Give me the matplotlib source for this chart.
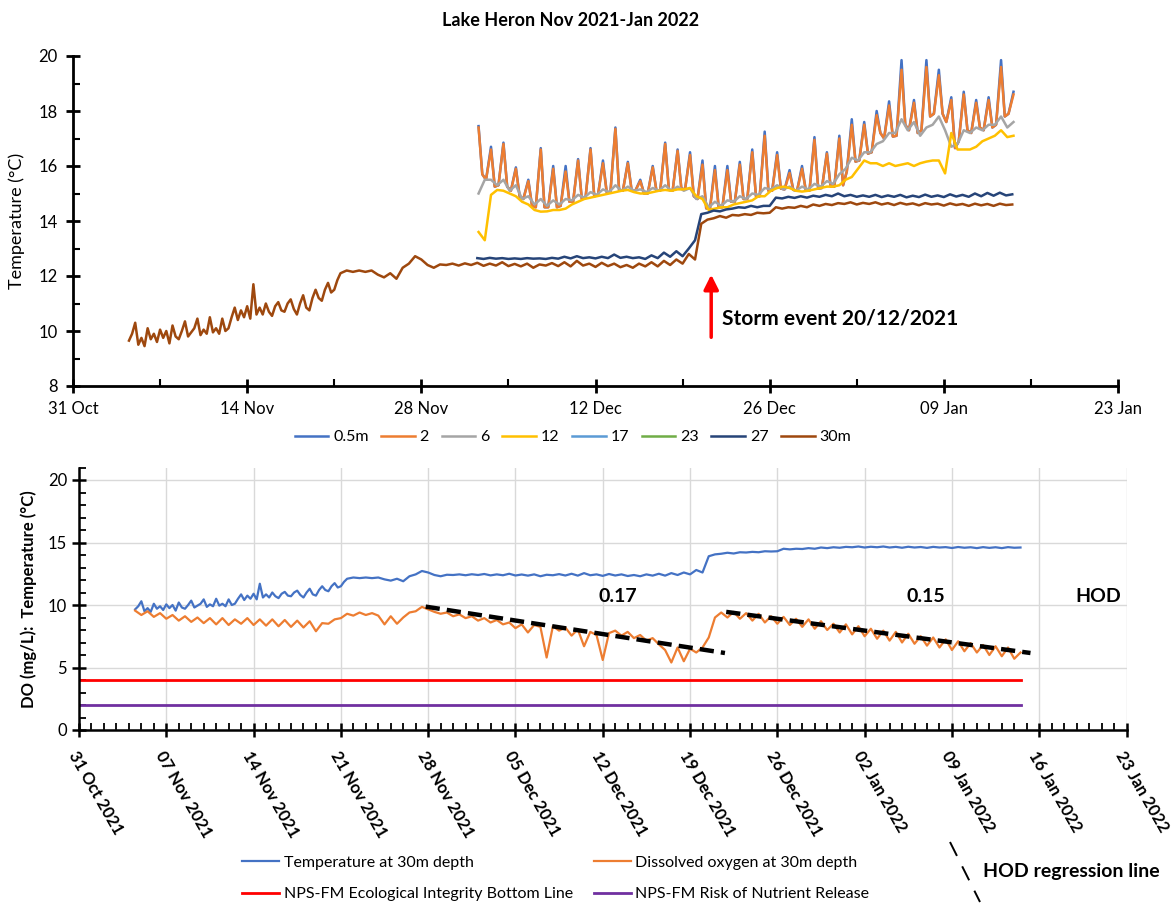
import numpy as np
import matplotlib
matplotlib.use("Agg")
import matplotlib.pyplot as plt
from matplotlib.lines import Line2D
from matplotlib.ticker import MultipleLocator, FixedLocator

plt.rcParams['font.family'] = ['Lato', 'DejaVu Sans']

# ---------------- data (x = days since 31 Oct 2021) ----------------
title = "Lake Heron Nov 2021-Jan 2022"
top_xticks = [0, 14, 28, 42, 56, 70, 84]
top_xlabels = ['31 Oct', '14 Nov', '28 Nov', '12 Dec', '26 Dec', '09 Jan', '23 Jan']
bot_xticks = [0, 7, 14, 21, 28, 35, 42, 49, 56, 63, 70, 77, 84]
bot_xlabels = ['31 Oct 2021', '07 Nov 2021', '14 Nov 2021', '21 Nov 2021', '28 Nov 2021',
               '05 Dec 2021', '12 Dec 2021', '19 Dec 2021', '26 Dec 2021', '02 Jan 2022',
               '09 Jan 2022', '16 Jan 2022', '23 Jan 2022']

# 30 m temperature: quarter-day samples from day 4.5 (November, noisy part)
temp30_nov_start = 4.5
temp30_nov = [9.65, 9.9, 10.3, 9.5, 9.75, 9.45, 10.1, 9.7, 9.9, 9.6, 10.05, 9.75, 10.0, 9.55,
              10.2, 9.8, 9.7, 10.0,
              10.35, 9.8, 9.95, 10.1, 10.45, 9.85, 10.05, 9.9, 10.5, 9.95, 10.1, 9.9, 10.45,
              10.0, 10.1, 10.5,
              10.85, 10.4, 10.75, 10.5, 10.9, 10.45, 11.7, 10.6,
              10.85, 10.6, 11.0, 10.7, 10.55, 10.9, 11.05, 10.75, 10.7, 11.0, 11.15, 10.8,
              10.6, 11.0, 11.3, 10.85, 10.75, 11.2, 11.5, 11.2, 11.1, 11.5, 11.75, 11.4,
              11.5, 11.85]
# 30 m temperature: half-day samples from day 21.5
temp30_start = 21.5
temp30 = [12.1, 12.2, 12.15, 12.2, 12.15, 12.2, 12.05, 11.95, 12.1, 11.9, 12.3, 12.45, 12.72,
          12.6, 12.4, 12.3, 12.42, 12.4,
          12.45, 12.38, 12.46, 12.4, 12.48, 12.37, 12.45, 12.38, 12.5, 12.36, 12.44, 12.35,
          12.45, 12.3, 12.42, 12.38, 12.47, 12.36, 12.5, 12.35, 12.55, 12.38, 12.45, 12.33,
          12.48, 12.36, 12.45, 12.32, 12.4, 12.3, 12.45, 12.35, 12.5, 12.35, 12.55, 12.4,
          12.6, 12.45, 12.8, 12.6, 13.9, 14.05,
          14.1, 14.18, 14.12, 14.22, 14.2, 14.25, 14.22, 14.3, 14.28, 14.3, 14.5, 14.45,
          14.5, 14.48, 14.55, 14.5, 14.6, 14.55, 14.62, 14.58, 14.65, 14.62, 14.68, 14.6,
          14.66, 14.62, 14.68, 14.6, 14.65, 14.58, 14.66, 14.6, 14.64, 14.57, 14.65, 14.6,
          14.63, 14.56, 14.64, 14.58, 14.62, 14.55, 14.63, 14.57, 14.62, 14.55, 14.63, 14.58,
          14.6]

# 27 m temperature, half-day samples starting day 32.5
temp27_start = 32.5
temp27 = [12.65, 12.62, 12.66, 12.63, 12.65, 12.62, 12.64, 12.62, 12.65, 12.63, 12.64, 12.62,
          12.66, 12.63, 12.7, 12.64, 12.72, 12.65, 12.68, 12.64, 12.7, 12.65, 12.78, 12.66,
          12.7, 12.65, 12.68, 12.62, 12.75, 12.65, 12.85, 12.7, 12.9, 12.72, 13.0, 13.3,
          14.25, 14.3, 14.38, 14.35, 14.42, 14.45, 14.5, 14.48, 14.55, 14.5, 14.55, 14.55,
          14.85, 14.82, 14.88, 14.84, 14.9, 14.85, 14.92, 14.88, 14.95, 14.9, 15.0, 14.9,
          14.95, 14.88, 14.93, 14.88, 14.95, 14.87, 14.93, 14.88, 14.95, 14.86, 14.92, 14.87,
          14.96, 14.88, 14.93, 14.87, 14.97, 14.89, 14.95, 14.88, 15.0, 14.9, 15.02, 14.92,
          15.03, 14.93, 14.97]

# surface sensors: per day (day 32 .. 75) morning low, afternoon peak, night low
surf_days = list(range(32, 76))
surf_lo_am = [np.nan, 15.5, 15.3, 15.1, 14.8, 14.5, 14.5, 14.55, 14.7, 14.85, 14.95, 15.05,
              15.1, 15.1, 15.0, 15.1, 15.1, 15.15, 14.8, 14.45, 14.5, 14.7, 14.8, 14.9,
              15.1, 15.15, 15.1, 15.1, 15.2, 15.25, 15.8, 16.2, 16.5, 17.0, 17.1, 17.3,
              17.3, 17.9, 17.6, 16.9, 17.2, 17.3, 17.5, 17.9]
peak_2m = [17.4, 16.6, 16.8, 15.9, 15.45, 16.6, 15.9, 15.8, 16.2, 16.6, 16.1, 17.35,
           16.1, 15.45, 15.95, 16.8, 16.55, 16.4, 16.05, 15.85, 15.85, 16.05, 16.5, 17.1,
           16.4, 15.75, 15.9, 16.95, 16.45, 17.0, 17.5, 17.5, 17.85, 18.2, 19.5, 18.3,
           19.6, 19.3, 18.4, 18.6, 18.3, 18.4, 19.6, 18.6]
peak_05m = [17.45, 16.7, 16.85, 15.95, 15.5, 16.65, 16.0, 16.0, 16.25, 16.65, 16.2, 17.4,
            16.15, 15.5, 16.0, 16.85, 16.6, 16.5, 16.2, 16.0, 16.0, 16.15, 16.6, 17.25,
            16.5, 15.85, 16.0, 17.05, 16.5, 17.1, 17.7, 17.6, 18.0, 18.35, 19.85, 18.4,
            19.85, 19.5, 18.5, 18.7, 18.4, 18.5, 19.85, 18.7]
surf_lo_pm = [15.7, 15.25, 15.25, 14.9, 14.55, 14.5, 14.5, 14.7, 14.8, 14.9, 15.05, 15.1,
              15.13, 15.0, 15.1, 15.13, 15.18, 14.9, 14.46, 14.5, 14.7, 14.8, 14.9, 15.1,
              15.18, 15.13, 15.13, 15.18, 15.25, 15.3, 16.16, 16.45, 17.2, 17.07, 17.5, 17.2,
              17.8, 17.9, 16.65, 17.3, 17.4, 17.4, 17.8, np.nan]

# 6 m and 12 m: per day (day 32 .. 75) early value and afternoon value
t6m_early = [np.nan, 15.5, 15.3, 15.1, 14.8, 14.6, 14.55, 14.6, 14.75, 14.85, 14.95, 15.05,
             15.1, 15.1, 15.05, 15.1, 15.1, 15.1, 14.8, 14.5, 14.55, 14.7, 14.8, 14.95,
             15.15, 15.15, 15.1, 15.15, 15.25, 15.35, 15.9, 16.2, 16.5, 16.9, 17.2, 17.3,
             17.1, 17.5, 17.3, 16.8, 17.2, 17.3, 17.5, 17.4]
t6m_pm = [15.0, 15.5, 15.5, 15.3, 14.9, 14.8, 14.75, 14.8, 14.95, 15.05, 15.15, 15.3,
          15.25, 15.15, 15.2, 15.3, 15.25, 15.2, 14.9, 14.7, 14.75, 14.9, 15.0, 15.2,
          15.3, 15.25, 15.25, 15.35, 15.45, 15.7, 16.3, 16.5, 16.8, 17.2, 17.7, 17.6,
          17.4, 17.8, 16.7, 17.3, 17.4, 17.5, 17.8, 17.6]
t12m_early = [np.nan, 13.3, 15.13, 15.0, 14.7, 14.4, 14.35, 14.4, 14.6, 14.8, 14.9, 15.0,
              15.1, 15.05, 15.0, 15.1, 15.1, 15.15, 14.9, 14.4, 14.5, 14.6, 14.7, 14.9,
              15.1, 15.25, 15.1, 15.1, 15.2, 15.25, 15.5, 15.9, 16.1, 16.0, 16.0, 16.1,
              16.1, 16.2, 15.73, 16.6, 16.6, 16.9, 17.1, 17.05]
t12m_pm = [13.6, 14.95, 15.1, 14.9, 14.6, 14.34, 14.4, 14.45, 14.7, 14.85, 14.95, 15.05,
           15.13, 15.0, 15.05, 15.13, 15.15, 15.2, 14.8, 14.45, 14.5, 14.65, 14.75, 14.9,
           15.2, 15.2, 15.07, 15.15, 15.25, 15.3, 15.6, 16.2, 16.1, 16.1, 16.05, 16.0,
           16.16, 16.2, 17.2, 16.6, 16.7, 17.0, 17.3, 17.1]

# dissolved oxygen at 30 m, half-day samples starting day 4.5
do30_start = 4.5
do30 = [9.55, 9.2, 9.5, 9.05, 9.35, 8.9, 9.2, 8.75, 9.1, 8.65, 9.0, 8.55, 8.95, 8.45,
        8.95, 8.4, 8.85, 8.5, 8.95, 8.4, 8.85, 8.35, 8.85, 8.3, 8.8, 8.25, 8.75, 8.2, 8.7,
        7.9, 8.55, 8.5, 8.85, 8.95, 9.3, 9.15, 9.4, 9.2, 9.35, 9.15, 8.45, 9.1, 8.5, 9.0,
        9.4, 9.5, 9.85, 9.65, 9.45, 9.3, 9.4, 9.1, 9.25, 8.95, 9.1, 8.75, 8.95, 8.6, 8.8,
        8.45, 8.6, 8.15, 8.45, 7.8, 8.4, 8.25, 5.8, 8.3, 7.95, 8.2, 7.55, 8.05, 6.7, 7.85,
        7.6, 5.6, 7.75, 7.95, 7.55, 7.85, 7.35, 7.6, 7.15, 7.35, 6.85, 6.4, 5.4, 6.6, 5.5,
        6.5, 6.2, 6.6, 7.4, 9.0,
        9.4, 9.0, 9.45, 8.9, 9.35, 8.75, 9.3, 8.6, 9.1, 8.5, 9.05, 8.4, 8.9, 8.25, 8.85,
        8.1, 8.7, 8.0, 8.5, 7.8, 8.45, 7.65, 8.3, 7.5, 8.1, 7.3, 7.95, 7.15, 7.85, 7.0,
        7.7, 6.9, 7.5, 6.75, 7.4, 6.6, 7.25, 6.4, 7.1, 6.3, 6.95, 6.2, 6.8, 6.0, 6.7,
        5.9, 6.6, 5.7, 6.2]

eco_bottom_line = 4.0
nutrient_release = 2.0
hod1_x = [27.8, 51.8]
hod1_y = [9.87, 6.16]
hod2_x = [51.9, 76.3]
hod2_y = [9.45, 6.16]
hod_labels = [(43.2, '0.17'), (67.9, '0.15'), (81.7, 'HOD')]
storm_x = 51.3
storm_text = "Storm event 20/12/2021"

# ---------------- derived time axes ----------------
t30 = np.concatenate([temp30_nov_start + 0.25 * np.arange(len(temp30_nov)),
                      temp30_start + 0.5 * np.arange(len(temp30))])
v30 = np.concatenate([temp30_nov, temp30])
t27 = temp27_start + 0.5 * np.arange(len(temp27))
tdo = do30_start + 0.5 * np.arange(len(do30))
sd = np.array(surf_days, dtype=float)

def interleave(times, vals):
    t = np.column_stack(times).ravel()
    v = np.column_stack(vals).ravel()
    return t, v

ts, s2 = interleave([sd + 0.2, sd + 0.6, sd + 0.9], [surf_lo_am, peak_2m, surf_lo_pm])
_, s05 = interleave([sd + 0.2, sd + 0.6, sd + 0.9], [surf_lo_am, peak_05m, surf_lo_pm])
tm, s6 = interleave([sd + 0.1, sd + 0.6], [t6m_early, t6m_pm])
_, s12 = interleave([sd + 0.1, sd + 0.6], [t12m_early, t12m_pm])

C_BLUE = '#4472C4'
C_ORANGE = '#ED7D31'
C_GRAY = '#A5A5A5'
C_GOLD = '#FFC000'
C_LBLUE = '#5B9BD5'
C_GREEN = '#70AD47'
C_DBLUE = '#264478'
C_BROWN = '#9E480E'

W, H = 1173, 906
fig = plt.figure(figsize=(W / 100, H / 100), dpi=100)

# ---------------- top panel ----------------
ax1 = fig.add_axes([73 / W, 1 - 386 / H, (1118 - 73) / W, (386 - 56) / H])
lw = 1.8
ax1.plot(ts, s05, color=C_BLUE, lw=lw, label='0.5m')
ax1.plot(ts, s2, color=C_ORANGE, lw=lw, label='2')
ax1.plot(tm, s6, color=C_GRAY, lw=lw, label='6')
ax1.plot(tm, s12, color=C_GOLD, lw=lw, label='12')
ax1.plot([], [], color=C_LBLUE, lw=lw, label='17')
ax1.plot([], [], color=C_GREEN, lw=lw, label='23')
ax1.plot(t27, temp27, color=C_DBLUE, lw=lw, label='27')
ax1.plot(t30, v30, color=C_BROWN, lw=lw, label='30m')
ax1.set_xlim(0, 84)
ax1.set_ylim(8, 20)
ax1.xaxis.set_major_locator(FixedLocator(top_xticks))
ax1.set_xticklabels(top_xlabels)
ax1.xaxis.set_minor_locator(MultipleLocator(7))
ax1.yaxis.set_major_locator(MultipleLocator(2))
ax1.yaxis.set_minor_locator(MultipleLocator(1))
for s in ['top', 'right']:
    ax1.spines[s].set_visible(False)
for s in ['left', 'bottom']:
    ax1.spines[s].set_linewidth(2)
ax1.tick_params(which='major', direction='inout', length=10, width=2, labelsize=12, pad=6)
ax1.tick_params(which='minor', direction='in', length=5, width=1.5)
ax1.set_ylabel('Temperature (°C)', fontsize=13, labelpad=10)
ax1.annotate('', xy=(storm_x, 12.15), xytext=(storm_x, 9.67),
             arrowprops=dict(arrowstyle='-|>', color='red', lw=2.5, mutation_scale=22))
ax1.text(storm_x + 0.9, 10.47, storm_text, fontsize=15, fontweight='bold',
         ha='left', va='center')
fig.text(571 / W, 1 - 20 / H, title, fontsize=13, fontweight='bold', ha='center', va='center')
fig.legend(*ax1.get_legend_handles_labels(), loc='center', ncol=8,
           bbox_to_anchor=(573 / W, 1 - 437 / H), frameon=False, fontsize=11.5,
           handlelength=2.1, columnspacing=0.8, handletextpad=0.3)

# ---------------- bottom panel ----------------
ax2 = fig.add_axes([79 / W, 1 - 730 / H, (1126.5 - 79) / W, (730 - 467.5) / H])
l_t, = ax2.plot(t30, v30, color=C_BLUE, lw=1.6, label='Temperature at 30m depth')
l_do, = ax2.plot(tdo, do30, color=C_ORANGE, lw=1.6, label='Dissolved oxygen at 30m depth')
l_eco, = ax2.plot([0, tdo[-1]], [eco_bottom_line, eco_bottom_line], color='#FF0000', lw=2,
                  label='NPS-FM Ecological Integrity Bottom Line')
l_nut, = ax2.plot([0, tdo[-1]], [nutrient_release, nutrient_release], color='#7030A0', lw=2,
                  label='NPS-FM Risk of Nutrient Release')
for hx, hy in [(hod1_x, hod1_y), (hod2_x, hod2_y)]:
    ax2.plot(hx, hy, color='black', lw=3.2, dashes=(3.2, 1.6), solid_capstyle='butt')
for x, s in hod_labels:
    ax2.text(x, 10.7, s, fontsize=14, fontweight='bold', ha='center', va='center')
ax2.set_xlim(0, 84)
ax2.set_ylim(0, 21)
ax2.xaxis.set_major_locator(FixedLocator(bot_xticks))
ax2.set_xticklabels(bot_xlabels, rotation=-60, ha='left', va='top',
                    rotation_mode='anchor', fontweight='bold', fontsize=11)
ax2.xaxis.set_minor_locator(MultipleLocator(1))
ax2.yaxis.set_major_locator(FixedLocator([0, 5, 10, 15, 20]))
ax2.yaxis.set_minor_locator(MultipleLocator(1))
ax2.grid(True, which='major', color='#D9D9D9', lw=1)
ax2.set_axisbelow(True)
for s in ['top', 'right']:
    ax2.spines[s].set_visible(False)
for s in ['left', 'bottom']:
    ax2.spines[s].set_linewidth(1.8)
ax2.tick_params(which='major', direction='inout', length=10, width=1.8, labelsize=12)
ax2.tick_params(axis='x', which='major', pad=8)
ax2.tick_params(which='minor', direction='in', length=5, width=1.3)
ax2.set_ylabel('DO (mg/L):  Temperature (°C)', fontsize=12, fontweight='bold', labelpad=8)

fig.legend([l_t, l_eco, l_do, l_nut], [l.get_label() for l in [l_t, l_eco, l_do, l_nut]],
           loc='upper left', ncol=2, bbox_to_anchor=(228 / W, 1 - 841 / H),
           frameon=False, fontsize=11.5, handlelength=2.3, handletextpad=0.3,
           columnspacing=1.3, labelspacing=1.1)
fig.add_artist(Line2D([950 / W, 980 / W], [1 - 842 / H, 1 - 902 / H], color='black',
                      lw=1.4, dashes=(8, 6)))
fig.text(983 / W, 1 - 871 / H, 'HOD regression line', fontsize=14, fontweight='bold',
         ha='left', va='center')

fig.savefig('out.png', dpi=100)
